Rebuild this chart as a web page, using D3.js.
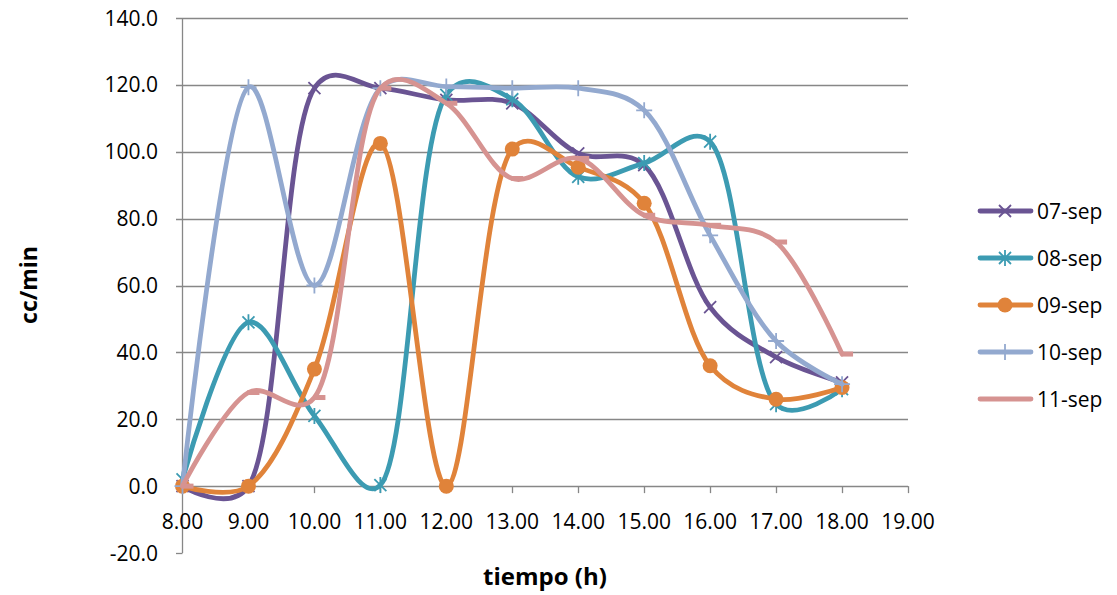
<!DOCTYPE html>
<html>
<head>
<meta charset="utf-8">
<script src="https://cdn.jsdelivr.net/npm/d3@7"></script>
<style>
  body { margin: 0; background: #fff; }
  svg text { font-family: "Open Sans", sans-serif; fill: #000; }
</style>
</head>
<body>
<div id="chart"></div>
<script>
// hours on the x axis
var hours = [8, 9, 10, 11, 12, 13, 14, 15, 16, 17, 18];

// cc/min per day
var sep07 = [0, 0, 119, 119, 115.5, 114.5, 99.5, 96, 53.5, 38.6, 31];
var sep08 = [2, 49, 21, 0.3, 117, 115.7, 92.5, 96.6, 103, 24.5, 29];
var sep09 = [0, 0, 35, 102.5, 0, 100.8, 95.4, 84.6, 36, 26, 29.5];
var sep10 = [0, 119.3, 60, 119, 119.5, 119, 119, 112.4, 75, 43.4, 30.5];
var sep11 = [0, 28, 26.5, 119, 114.5, 92, 98, 81, 78, 73, 39.5];

var seriesNames = ["07-sep", "08-sep", "09-sep", "10-sep", "11-sep"];
var seriesValues = [sep07, sep08, sep09, sep10, sep11];
var seriesColors = ["#6a5493", "#3c9bb2", "#e0833a", "#93a9cf", "#d69391"];
var seriesMarkers = ["x", "star", "circle", "plus", "dash"];

var yTicks = [-20, 0, 20, 40, 60, 80, 100, 120, 140];
var xTicks = [8, 9, 10, 11, 12, 13, 14, 15, 16, 17, 18, 19];

var width = 1117, height = 595;
var gridColor = "#878787";

var svg = d3.select("#chart").append("svg")
    .attr("width", width)
    .attr("height", height);

var x = d3.scaleLinear().domain([8, 19]).range([182.5, 908]);
var y = d3.scaleLinear().domain([-20, 140]).range([553, 18]);

// horizontal gridlines
svg.append("g")
    .selectAll("line")
    .data(yTicks.filter(function (d) { return d !== -20; }))
    .enter().append("line")
    .attr("x1", 176)
    .attr("x2", 908)
    .attr("y1", function (d) { return Math.round(y(d)) + 0.5; })
    .attr("y2", function (d) { return Math.round(y(d)) + 0.5; })
    .attr("stroke", gridColor)
    .attr("stroke-width", 1.3);

// y axis line and ticks
svg.append("line")
    .attr("x1", 182.5).attr("x2", 182.5)
    .attr("y1", y(140)).attr("y2", y(-20))
    .attr("stroke", gridColor).attr("stroke-width", 1.3);

svg.append("line")
    .attr("x1", 176).attr("x2", 182.5)
    .attr("y1", Math.round(y(-20)) + 0.5).attr("y2", Math.round(y(-20)) + 0.5)
    .attr("stroke", gridColor).attr("stroke-width", 1.3);

svg.append("g")
    .selectAll("text")
    .data(yTicks)
    .enter().append("text")
    .attr("x", 158)
    .attr("y", function (d) { return y(d); })
    .attr("dy", "0.36em")
    .attr("text-anchor", "end")
    .style("font-size", "21px")
    .text(function (d) { return d.toFixed(1); });

// x axis at zero
svg.append("g")
    .selectAll("line")
    .data(xTicks)
    .enter().append("line")
    .attr("x1", function (d) { return Math.round(x(d)) + 0.5; })
    .attr("x2", function (d) { return Math.round(x(d)) + 0.5; })
    .attr("y1", y(0))
    .attr("y2", y(0) + 7)
    .attr("stroke", gridColor)
    .attr("stroke-width", 1.3);

svg.append("g")
    .selectAll("text")
    .data(xTicks)
    .enter().append("text")
    .attr("x", function (d) { return x(d); })
    .attr("y", 529)
    .attr("text-anchor", "middle")
    .style("font-size", "21px")
    .text(function (d) { return d.toFixed(2); });

// axis titles
svg.append("text")
    .attr("x", 545)
    .attr("y", 585)
    .attr("text-anchor", "middle")
    .style("font-size", "24px")
    .style("font-weight", "bold")
    .text("tiempo (h)");

svg.append("text")
    .attr("transform", "translate(37,285) rotate(-90)")
    .attr("text-anchor", "middle")
    .style("font-size", "23px")
    .style("font-weight", "bold")
    .text("cc/min");

// marker drawing
function drawMarker(g, type, color) {
    if (type === "x") {
        g.append("path").attr("d", "M-6,-6L6,6M-6,6L6,-6")
            .attr("stroke", color).attr("stroke-width", 1.8).attr("fill", "none");
    } else if (type === "star") {
        g.append("path").attr("d", "M-6,-6L6,6M-6,6L6,-6M0,-8L0,8")
            .attr("stroke", color).attr("stroke-width", 1.8).attr("fill", "none");
    } else if (type === "circle") {
        g.append("circle").attr("r", 7.5).attr("fill", color);
    } else if (type === "plus") {
        g.append("path").attr("d", "M-8,0L8,0M0,-8L0,8")
            .attr("stroke", color).attr("stroke-width", 1.8).attr("fill", "none");
    } else if (type === "dash") {
        g.append("rect").attr("x", -1).attr("y", -2.5).attr("width", 12).attr("height", 5)
            .attr("fill", color);
    }
}

var line = d3.line()
    .x(function (d, i) { return x(hours[i]); })
    .y(function (d) { return y(d); })
    .curve(d3.curveCatmullRom.alpha(0.3));

seriesValues.forEach(function (vals, s) {
    var g = svg.append("g");
    g.append("path")
        .datum(vals)
        .attr("d", line)
        .attr("fill", "none")
        .attr("stroke", seriesColors[s])
        .attr("stroke-width", 4.8)
        .attr("stroke-linejoin", "round")
        .attr("stroke-linecap", "round");

    vals.forEach(function (v, i) {
        var m = g.append("g")
            .attr("transform", "translate(" + x(hours[i]) + "," + y(v) + ")");
        drawMarker(m, seriesMarkers[s], seriesColors[s]);
    });
});

// legend
var legend = svg.append("g");
seriesNames.forEach(function (name, s) {
    var ly = 211 + s * 47;
    legend.append("line")
        .attr("x1", 980).attr("x2", 1031)
        .attr("y1", ly).attr("y2", ly)
        .attr("stroke", seriesColors[s])
        .attr("stroke-width", 4.8)
        .attr("stroke-linecap", "round");
    var m = legend.append("g").attr("transform", "translate(1005," + ly + ")");
    if (seriesMarkers[s] !== "dash") drawMarker(m, seriesMarkers[s], seriesColors[s]);
    legend.append("text")
        .attr("x", 1037)
        .attr("y", ly)
        .attr("dy", "0.36em")
        .style("font-size", "21px")
        .text(name);
});
</script>
</body>
</html>
